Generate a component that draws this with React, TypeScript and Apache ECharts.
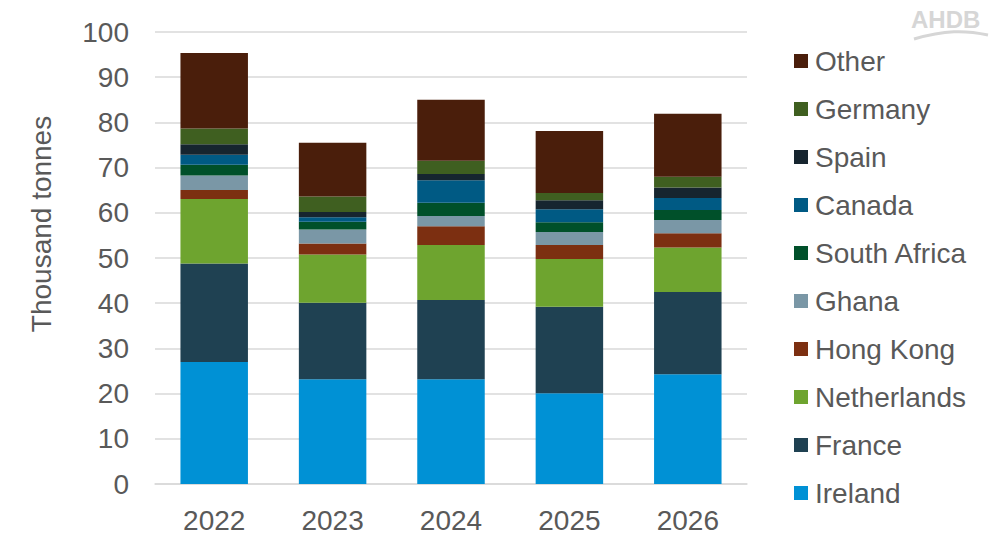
import React, { useEffect, useRef } from "react";
import * as echarts from "echarts";

const years = ["2022", "2023", "2024", "2025", "2026"];
const ireland = [27.0, 23.2, 23.2, 20.1, 24.3];
const france = [21.8, 16.9, 17.5, 19.1, 18.2];
const netherlands = [14.25, 10.7, 12.2, 10.6, 9.8];
const hongKong = [2.0, 2.4, 4.1, 3.1, 3.2];
const ghana = [3.2, 3.1, 2.3, 2.85, 2.9];
const southAfrica = [2.4, 1.7, 2.9, 2.15, 2.2];
const canada = [2.2, 1.0, 5.0, 2.9, 2.7];
const spain = [2.3, 1.2, 1.4, 2.0, 2.3];
const germany = [3.5, 3.4, 2.9, 1.6, 2.4];
const other = [16.7, 11.9, 13.5, 13.7, 13.9];

const seriesDefs = [
  { name: "Ireland", data: ireland, color: "#0091D5" },
  { name: "France", data: france, color: "#1F4152" },
  { name: "Netherlands", data: netherlands, color: "#6EA42F" },
  { name: "Hong Kong", data: hongKong, color: "#7C2F11" },
  { name: "Ghana", data: ghana, color: "#7A97A6" },
  { name: "South Africa", data: southAfrica, color: "#00502A" },
  { name: "Canada", data: canada, color: "#005A84" },
  { name: "Spain", data: spain, color: "#16252F" },
  { name: "Germany", data: germany, color: "#3F5F20" },
  { name: "Other", data: other, color: "#4A1E0B" },
];

const yTicks = [0, 10, 20, 30, 40, 50, 60, 70, 80, 90, 100];

export default function App() {
  const ref = useRef<HTMLDivElement>(null);
  useEffect(() => {
    if (!ref.current) return;
    const chart = echarts.init(ref.current, null, { renderer: "svg" });
    const font = "'Liberation Sans', Arial, sans-serif";
    chart.setOption({
      animation: false,
      backgroundColor: "#ffffff",
      textStyle: { fontFamily: font },
      grid: { left: 155, top: 32, width: 592, height: 452, containLabel: false },
      legend: {
        orient: "vertical",
        left: 789,
        top: 42,
        itemWidth: 14,
        itemHeight: 14,
        itemGap: 20,
        icon: "rect",
        data: seriesDefs.map((s) => s.name).reverse(),
        textStyle: { fontSize: 28, color: "#595959", fontFamily: font, padding: [0, 0, 0, 2] },
      },
      xAxis: {
        type: "category",
        data: years,
        axisLine: { lineStyle: { color: "#d9d9d9", width: 1.5 } },
        axisTick: { show: false },
        axisLabel: { fontSize: 28, color: "#595959", margin: 22, fontFamily: font },
      },
      yAxis: {
        type: "value",
        min: yTicks[0],
        max: yTicks[yTicks.length - 1],
        interval: 10,
        axisLine: { show: false },
        axisTick: { show: false },
        axisLabel: { fontSize: 28, color: "#595959", margin: 26, fontFamily: font },
        splitLine: { lineStyle: { color: "#d9d9d9", width: 1.5 } },
      },
      graphic: [
        {
          type: "text",
          x: 41,
          y: 224,
          rotation: Math.PI / 2,
          style: {
            text: "Thousand tonnes",
            fontSize: 28,
            fill: "#595959",
            fontFamily: font,
            align: "center",
            verticalAlign: "middle",
          },
        },
        {
          type: "text",
          x: 911,
          y: 7,
          style: {
            text: "AHDB",
            fontSize: 24,
            fontWeight: "bold",
            fill: "#d6d6d6",
            fontFamily: font,
          },
        },
        {
          type: "bezierCurve",
          shape: { x1: 914, y1: 39, x2: 988, y2: 35, cpx1: 945, cpy1: 30, cpx2: 965, cpy2: 30 },
          style: { stroke: "#d6d6d6", lineWidth: 3, fill: "none" },
        },
      ],
      series: seriesDefs.map((s) => ({
        name: s.name,
        type: "bar",
        stack: "total",
        barWidth: "57%",
        data: s.data,
        itemStyle: { color: s.color },
      })),
    });
    return () => chart.dispose();
  }, []);
  return <div ref={ref} style={{ width: 1000, height: 555, position: "absolute", left: 0, top: 0 }} />;
}
